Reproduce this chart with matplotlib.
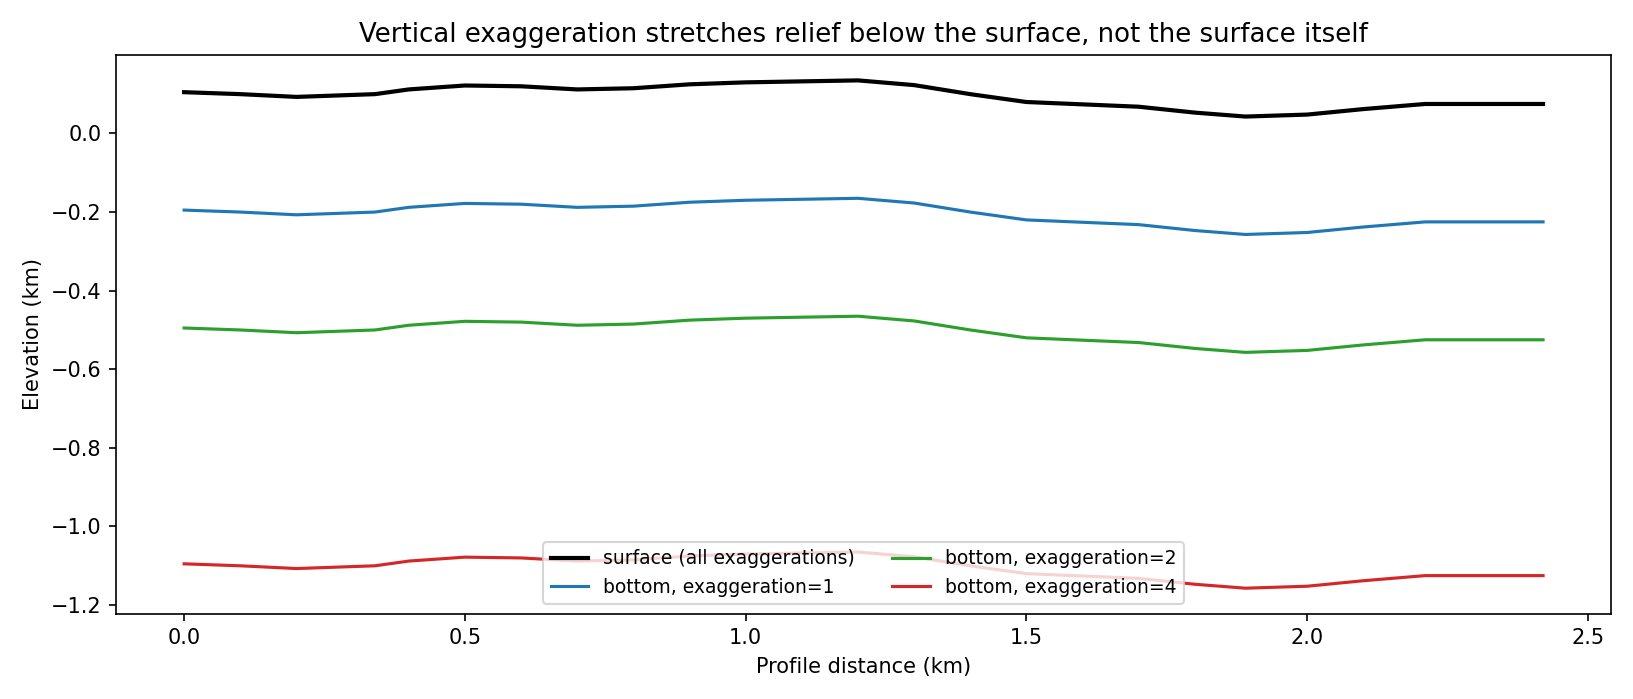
import matplotlib
matplotlib.use("Agg")
import matplotlib.pyplot as plt
import numpy as np

distance = [0.0, 0.1, 0.2, 0.34, 0.4, 0.5, 0.6, 0.7, 0.8, 0.9, 1.0, 1.2, 1.3, 1.4, 1.5, 1.6, 1.7, 1.8, 1.89, 2.0, 2.1, 2.21, 2.42]
surface = [0.105, 0.1, 0.093, 0.1, 0.112, 0.122, 0.12, 0.112, 0.115, 0.125, 0.13, 0.135, 0.123, 0.1, 0.08, 0.074, 0.068, 0.053, 0.043, 0.048, 0.062, 0.075, 0.075]
thickness = 0.3
exaggerations = [1, 2, 4]
colors = ["#1f77b4", "#2ca02c", "#d62728"]

fig, ax = plt.subplots(figsize=(10.89, 4.66), dpi=150)
s = np.array(surface)
ax.plot(distance, s, color="black", lw=2, label="surface (all exaggerations)")
for e, c in zip(exaggerations, colors):
    ax.plot(distance, s - thickness * e, color=c, lw=1.5, label=f"bottom, exaggeration={e}")
ax.set_title("Vertical exaggeration stretches relief below the surface, not the surface itself", fontsize=12.5)
ax.set_xlabel("Profile distance (km)")
ax.set_ylabel("Elevation (km)")
ax.legend(loc="lower center", ncol=2, fontsize=9)
fig.tight_layout()
fig.savefig("out.png")
